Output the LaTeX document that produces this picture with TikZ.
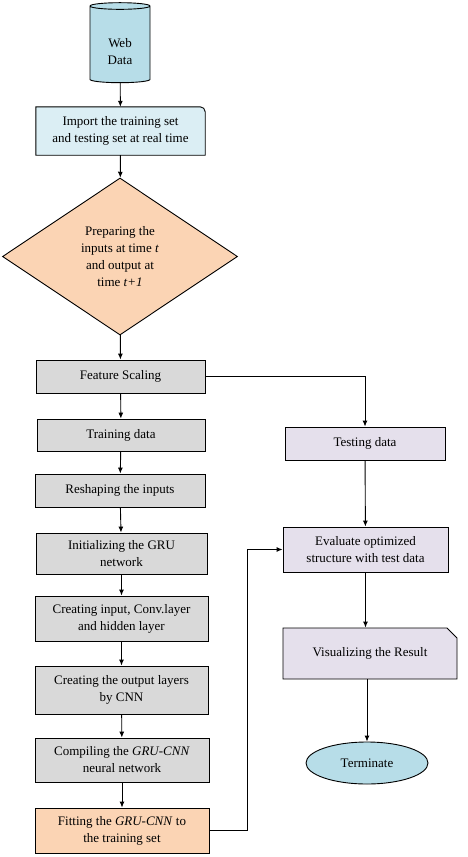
\documentclass[tikz,border=0pt]{standalone}
\usepackage{fontspec}
\setmainfont{Liberation Serif}
\usetikzlibrary{shapes.geometric,shapes.misc,arrows.meta,backgrounds}
\definecolor{webblue}{HTML}{B7DDE8}
\definecolor{importblue}{HTML}{DBEEF4}
\definecolor{prepOrange}{HTML}{FBD4B4}
\definecolor{stepgray}{HTML}{D9D9D9}
\definecolor{testlilac}{HTML}{E5E0EC}

\begin{document}
\begin{tikzpicture}[x=1pt, y=-1pt, >={Latex[length=6pt,width=5pt]},
    font=\fontsize{13}{17}\selectfont,
    box/.style={draw, line width=0.9pt, align=center, inner sep=1pt},
    graybox/.style={box, fill=stepgray},
    lilacbox/.style={box, fill=testlilac},
    link/.style={->, line width=0.9pt}]
    \useasboundingbox (0,0) rectangle (467,857);

    % left column
    \node[box, cylinder, shape border rotate=90, shape aspect=0.25, fill=webblue, minimum width=60pt, minimum height=80pt] (data) at (120,45) {\rule{0pt}{22pt}Web\\Data};
    \node[align=center, inner sep=1pt, minimum width=169pt, minimum height=48pt] (imp) at (120.5,131) {Import the training set\\and testing set at real time};
    \node[box, diamond, fill=prepOrange, minimum width=235pt, minimum height=157pt] (prep) at (120,256.5) {Preparing the\\inputs at time \textit{t}\\and output at\\time \textit{t+1}};
    \node[graybox, minimum width=169pt, minimum height=33pt] (feat) at (120.5,376.5) {Feature Scaling};
    \node[graybox, minimum width=168pt, minimum height=32pt] (train) at (121,435) {Training data};
    \node[graybox, minimum width=170pt, minimum height=33pt] (reshape) at (120,490.5) {Reshaping the inputs};
    \node[graybox, minimum width=171pt, minimum height=41pt] (init) at (121.5,553.5) {Initializing the GRU\\network};
    \node[graybox, minimum width=173pt, minimum height=45pt] (layers) at (121.5,618.5) {Creating input, Conv.layer\\and hidden layer};
    \node[graybox, minimum width=173pt, minimum height=48pt] (outlayer) at (121.5,690) {Creating the output layers\\by CNN};
    \node[graybox, minimum width=174pt, minimum height=44pt] (compile) at (122,760) {Compiling the \textit{GRU-CNN}\\neural network};
    \node[box, fill=prepOrange, minimum width=174pt, minimum height=45pt] (fit) at (122,830.5) {Fitting the \textit{GRU-CNN} to\\the training set};

    % right column
    \node[lilacbox, minimum width=160pt, minimum height=33pt] (test) at (365,443.5) {Testing data};
    \node[lilacbox, minimum width=165pt, minimum height=45pt] (eval) at (365.5,549.5) {Evaluate optimized\\structure with test data};
    \node[lilacbox, chamfered rectangle, chamfered rectangle corners=north east, chamfered rectangle xsep=5pt, chamfered rectangle ysep=5pt, minimum width=174pt, minimum height=51pt] (vis) at (370,653.5) {Visualizing the Result};
    \node[box, ellipse, fill=webblue, minimum width=122pt, minimum height=42pt] (term) at (367,763) {Terminate};

    % frame of the import box
    \begin{scope}[on background layer]
    \draw[line width=0.9pt, fill=importblue] (imp.south west) -- (imp.north west) -- ([xshift=-5pt]imp.north east) to[out=0,in=90] ([yshift=-5pt]imp.north east) -- (imp.south east) -- cycle;
    \end{scope}

    \draw[link] (data) -- (imp);
    \draw[link] (imp) -- (prep);
    \draw[link] (prep) -- (feat);
    \draw[link] (feat) -- (train);
    \draw[link] (train) -- (reshape);
    \draw[link] (reshape) -- (init);
    \draw[link] (init) -- (layers);
    \draw[link] (layers) -- (outlayer);
    \draw[link] (outlayer) -- (compile);
    \draw[link] (compile) -- (fit);
    \draw[link] (feat.east) -| (test.north);
    \draw[link] (test) -- (eval);
    \draw[link] (fit.east) -- ++(38,0) |- (eval.west);
    \draw[link] (eval.south) -- (eval.south |- vis.north);
    \draw[link] (term.north |- vis.south) -- (term.north);
\end{tikzpicture}
\end{document}
